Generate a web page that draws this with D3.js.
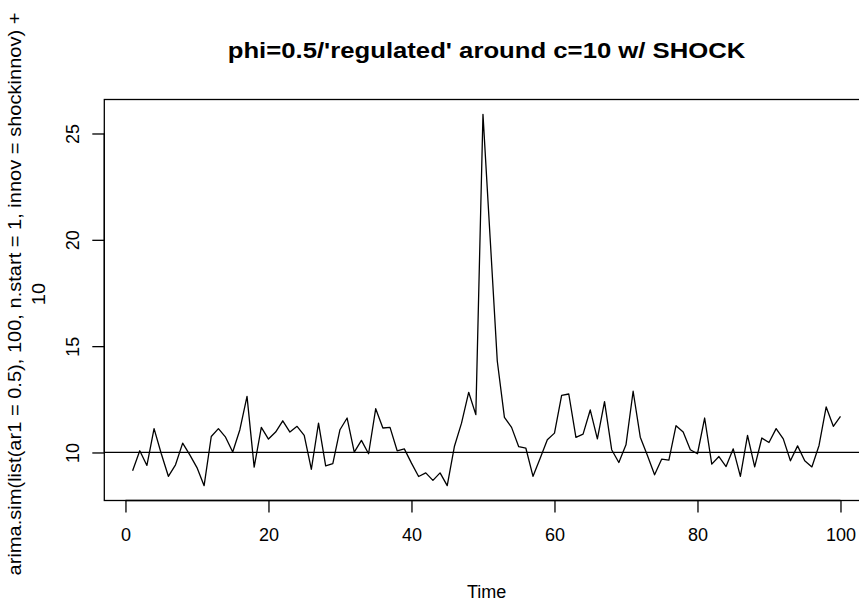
<!DOCTYPE html>
<html>
<head>
<meta charset="utf-8">
<script src="https://cdn.jsdelivr.net/npm/d3@7"></script>
<style>
  html, body { margin: 0; padding: 0; background: #fff; }
  svg { display: block; }
  text { font-family: "Liberation Sans", Arial, Helvetica, sans-serif; fill: #000; }
</style>
</head>
<body>
<svg id="chart" width="859" height="603"></svg>
<script>
const timeIndex = d3.range(1, 101);
const seriesValues = [
  9.14, 10.08, 9.39, 11.12, 9.95, 8.88, 9.42, 10.44, 9.89, 9.29,
  8.44, 10.75, 11.12, 10.72, 10.02, 11.07, 12.64, 9.31, 11.18, 10.63,
  10.96, 11.49, 10.96, 11.23, 10.80, 9.21, 11.38, 9.37, 9.48, 11.07,
  11.62, 10.02, 10.57, 9.94, 12.06, 11.15, 11.18, 10.08, 10.17, 9.50,
  8.87, 9.04, 8.69, 9.04, 8.44, 10.28, 11.38, 12.83, 11.78, 25.90,
  20.10, 14.30, 11.65, 11.18, 10.27, 10.20, 8.88, 9.73, 10.60, 10.91,
  12.69, 12.75, 10.71, 10.86, 12.00, 10.64, 12.39, 10.13, 9.53, 10.36,
  12.88, 10.72, 9.86, 8.95, 9.69, 9.64, 11.26, 10.96, 10.13, 9.94,
  11.62, 9.45, 9.81, 9.34, 10.17, 8.88, 10.80, 9.32, 10.68, 10.47,
  11.12, 10.64, 9.61, 10.31, 9.61, 9.32, 10.33, 12.14, 11.23, 11.70
];
const xTicks = [0, 20, 40, 60, 80, 100];
const yTicks = [10, 15, 20, 25];
const refLevel = 10;
const titleText = "phi=0.5/'regulated' around c=10 w/ SHOCK";
const xLabel = "Time";
const yLabelLines = ["arima.sim(list(ar1 = 0.5), 100, n.start = 1, innov = shockinnov) +", "10"];

const svg = d3.select("#chart");
const plot = { left: 104.3, right: 868.8, top: 99.5, bottom: 500.5 };

function rDomain(ext) {
  const pad = (ext[1] - ext[0]) * 0.04;
  return [ext[0] - pad, ext[1] + pad];
}

const x = d3.scaleLinear().domain(rDomain(d3.extent(timeIndex))).range([plot.left, plot.right]);
const y = d3.scaleLinear().domain(rDomain(d3.extent(seriesValues))).range([plot.bottom, plot.top]);

// Line
const line = d3.line().x((d, i) => x(timeIndex[i])).y(d => y(d));
svg.append("path")
  .datum(seriesValues)
  .attr("d", line)
  .attr("fill", "none")
  .attr("stroke", "#000")
  .attr("stroke-width", 1.3)
  .attr("stroke-linejoin", "round");

// reference line
svg.append("line")
  .attr("x1", plot.left).attr("x2", plot.right)
  .attr("y1", y(refLevel)).attr("y2", y(refLevel))
  .attr("stroke", "#000").attr("stroke-width", 1.3);

// box
svg.append("rect")
  .attr("x", plot.left).attr("y", plot.top)
  .attr("width", plot.right - plot.left).attr("height", plot.bottom - plot.top)
  .attr("fill", "none").attr("stroke", "#000").attr("stroke-width", 1.3);

// X axis
const xAxis = d3.axisBottom(x).tickValues(xTicks).tickSize(12).tickPadding(16).tickFormat(d3.format("d"));
const gx = svg.append("g").attr("transform", `translate(0,${plot.bottom})`).call(xAxis);
gx.select(".domain").attr("d", `M${x(xTicks[0])},0H${x(xTicks[xTicks.length - 1])}`).attr("stroke-width", 1.3);
gx.selectAll(".tick line").attr("stroke-width", 1.3);
gx.selectAll(".tick text").attr("font-size", 18).attr("font-family", "Liberation Sans, Arial, sans-serif").attr("fill", "#000");

// Y axis
const yAxis = d3.axisLeft(y).tickValues(yTicks).tickSize(12).tickPadding(0).tickFormat(d3.format("d"));
const gy = svg.append("g").attr("transform", `translate(${plot.left},0)`).call(yAxis);
gy.select(".domain").attr("d", `M0,${y(yTicks[0])}V${y(yTicks[yTicks.length - 1])}`).attr("stroke-width", 1.3);
gy.selectAll(".tick line").attr("stroke-width", 1.3);
gy.selectAll(".tick text")
  .attr("font-size", 18).attr("font-family", "Liberation Sans, Arial, sans-serif").attr("fill", "#000")
  .attr("x", null).attr("dy", null)
  .attr("text-anchor", "middle")
  .attr("transform", "translate(-25,0) rotate(-90)");

// Title (reference glyphs are horizontally wider)
svg.append("text")
  .attr("transform", `translate(${(plot.left + plot.right) / 2},58) scale(1.19,1)`)
  .attr("text-anchor", "middle")
  .attr("font-size", 21.6).attr("font-weight", "bold")
  .text(titleText);

// X label
svg.append("text")
  .attr("x", (plot.left + plot.right) / 2).attr("y", 598)
  .attr("text-anchor", "middle")
  .attr("font-size", 18)
  .text(xLabel);

// Y label (two lines)
const midY = 294;
yLabelLines.forEach((t, i) => {
  svg.append("text")
    .attr("transform", `translate(${21 + i * 24},${midY}) rotate(-90) scale(1.115,1)`)
    .attr("text-anchor", "middle")
    .attr("font-size", 18)
    .text(t);
});
</script>
</body>
</html>
